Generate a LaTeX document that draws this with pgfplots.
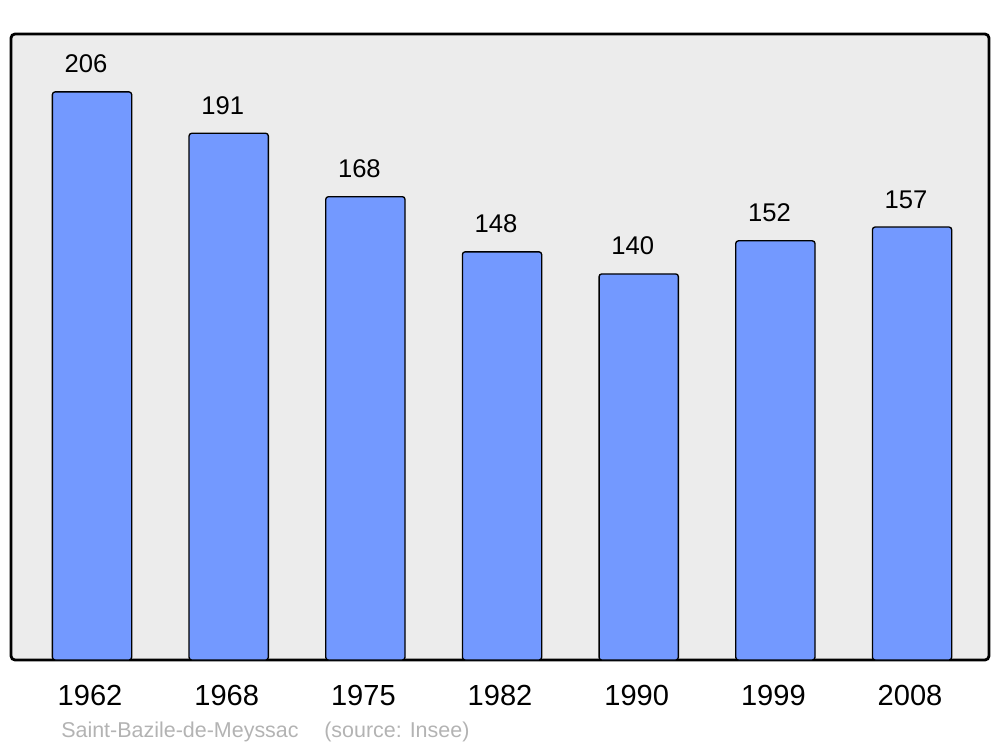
\documentclass[border=0pt]{standalone}
\usepackage{pgfplots}
\pgfplotsset{compat=1.18}
\usepackage{fontspec}
\setmainfont{Liberation Sans}
\definecolor{barblue}{HTML}{7399FF}
\definecolor{bggray}{HTML}{ECECEC}
\definecolor{srcgray}{HTML}{B3B3B3}
\begin{document}
\begin{tikzpicture}
\begin{axis}[
  at={(8.25pt,65.25pt)}, anchor=south west,
  scale only axis, width=733.5pt, height=469.5pt,
  xmin=-0.593, xmax=6.563, ymin=0, ymax=227,
  axis lines=none,
  clip=false,
  xtick=data,
  xticklabels={1962,1968,1975,1982,1990,1999,2008},
  /pgf/number format/assume math mode=true,
  ytick=\empty,
  ybar, bar width=0.58,
  nodes near coords,
  every node near coord/.append style={font=\fontsize{19.2}{21}\selectfont, anchor=base, yshift=14.25pt, xshift=-4.5pt, inner sep=0pt},
]
\path[fill=bggray, draw=black, line width=2.1pt, rounded corners=3pt] (rel axis cs:0,0) rectangle (rel axis cs:1,1);
\addplot[fill=barblue, draw=black, line width=1pt, rounded corners=2pt] coordinates {
(0,206) (1,191) (2,168) (3,148) (4,140) (5,152) (6,157)};
\foreach \yr [count=\i from 0] in {1962,1968,1975,1982,1990,1999,2008} {
  \edef\tmp{\noexpand\node[anchor=base, inner sep=0pt, font=\noexpand\fontsize{21.8}{24}\noexpand\selectfont] at (axis cs:\i,0) [yshift=-33.75pt, xshift=-1.5pt] {\yr};}
  \tmp
}
\end{axis}
\node[anchor=base west, inner sep=0pt, text=srcgray, font=\fontsize{16.1}{18}\selectfont] at (45.75pt,7.5pt) {Saint-Bazile-de-Meyssac};
\node[anchor=base west, inner sep=0pt, text=srcgray, font=\fontsize{16.1}{18}\selectfont] at (243pt,7.5pt) {(source: Insee)};
\pgfresetboundingbox
\useasboundingbox (0,0) rectangle (750pt,560.25pt);
\end{tikzpicture}
\end{document}
